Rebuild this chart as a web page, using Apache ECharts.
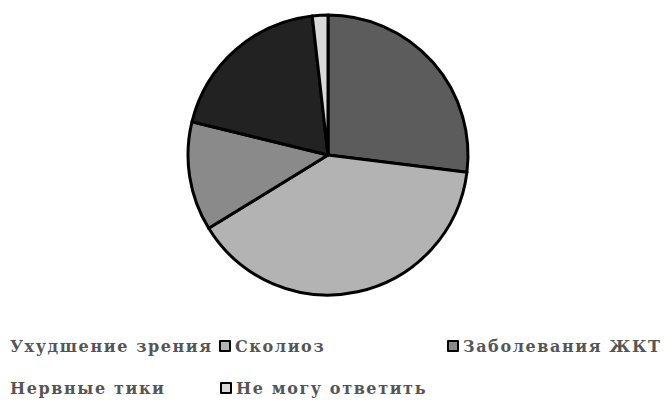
<!DOCTYPE html>
<html><head><meta charset="utf-8">
<script src="https://cdn.jsdelivr.net/npm/echarts@6/dist/echarts.min.js"></script>
<style>html,body{margin:0;padding:0;background:#fff}#c{width:672px;height:400px}#c text{letter-spacing:1.6px}</style>
</head><body><div id="c"></div>
<script>
const categories = ['Ухудшение зрения', 'Сколиоз', 'Заболевания ЖКТ', 'Нервные тики', 'Не могу ответить'];
const values = [27.0, 39.3, 12.6, 19.4, 1.8];
const colors = ['#5c5c5c', '#b3b3b3', '#8a8a8a', '#222222', '#d9d9d9'];

const legendPos = [
  {left: 5, top: 338, hideIcon: true},
  {left: 219, top: 338},
  {left: 447, top: 338},
  {left: 5, top: 380, hideIcon: true},
  {left: 220, top: 380}
];
const legendText = {fontFamily: 'DejaVu Serif', fontWeight: 'bold', fontSize: 16, color: '#555555'};

const chart = echarts.init(document.getElementById('c'), null, {renderer: 'svg'});
chart.setOption({
  animation: false,
  backgroundColor: '#ffffff',
  color: colors,
  legend: categories.map((name, i) => ({
    data: [name],
    left: legendPos[i].left,
    top: legendPos[i].top,
    orient: 'horizontal',
    padding: 0,
    icon: 'rect',
    itemWidth: legendPos[i].hideIcon ? 0 : 10,
    itemHeight: 10,
    itemStyle: legendPos[i].hideIcon ? {borderWidth: 0, opacity: 0} : {borderColor: '#000', borderWidth: 2},
    textStyle: legendText,
    selectedMode: false
  })),
  series: [{
    type: 'pie',
    center: [328, 155],
    radius: 140,
    startAngle: 90,
    clockwise: true,
    label: {show: false},
    labelLine: {show: false},
    itemStyle: {borderColor: '#000', borderWidth: 3},
    emphasis: {disabled: true},
    data: categories.map((name, i) => ({name, value: values[i]}))
  }]
});
</script></body></html>
